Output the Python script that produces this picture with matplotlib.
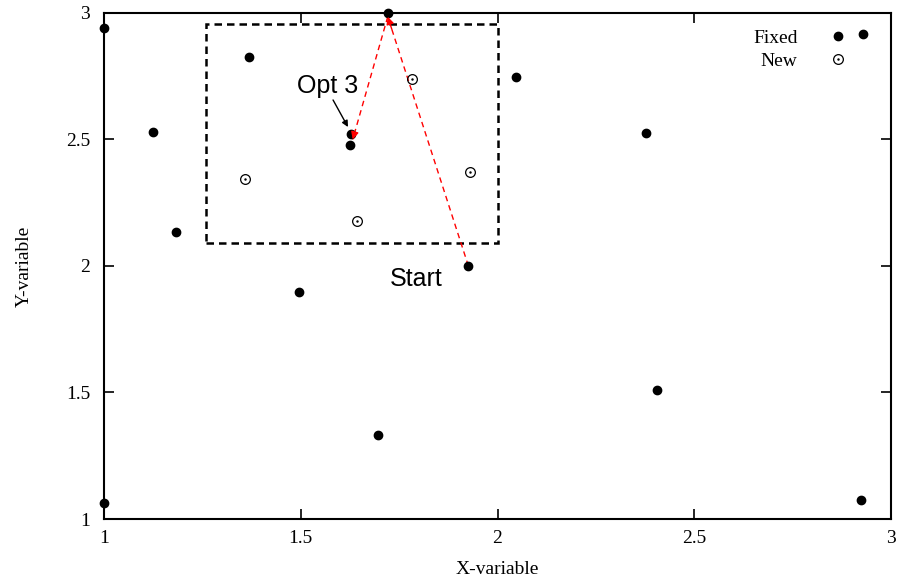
import matplotlib
matplotlib.use('Agg')
import matplotlib.pyplot as plt
from matplotlib.patches import Rectangle

plt.rcParams['font.family'] = 'Liberation Serif'

# fixed design points
fixed_x = [1.0, 1.124, 1.183, 1.368, 1.495, 1.627, 1.624, 1.721, 1.695,
           1.926, 2.048, 2.377, 2.405, 2.924, 1.0, 2.93]
fixed_y = [2.94, 2.53, 2.133, 2.826, 1.897, 2.523, 2.48, 3.0, 1.333,
           2.0, 2.747, 2.526, 1.51, 1.075, 1.063, 2.917]

# new points
new_x = [1.358, 1.782, 1.642, 1.931]
new_y = [2.343, 2.74, 2.176, 2.37]

# optimisation path: start -> opt 2 -> opt 3
path_x = [1.926, 1.721, 1.632]
path_y = [2.0, 2.985, 2.50]

# trust region box
box_x = [1.26, 2.0]
box_y = [2.09, 2.955]

fig = plt.figure(figsize=(9, 5.87), dpi=100)
ax = fig.add_axes([0.1156, 0.1158, 0.8744, 0.8622])

h_fixed, = ax.plot(fixed_x, fixed_y, 'o', color='black', markersize=6, clip_on=False,
                   zorder=4)
h_new, = ax.plot(new_x, new_y, 'o', markerfacecolor='none', markeredgecolor='black',
                 markeredgewidth=0.9, markersize=7, clip_on=False, zorder=4)
h_dot, = ax.plot(new_x, new_y, '.', color='black', markersize=1.5, zorder=4)

ax.add_patch(Rectangle((box_x[0], box_y[0]), box_x[1] - box_x[0], box_y[1] - box_y[0],
                       fill=False, edgecolor='black', linestyle=(0, (3, 2)), lw=1.8))

for i in range(len(path_x) - 1):
    dx = path_x[i + 1] - path_x[i]
    dy = path_y[i + 1] - path_y[i]
    ax.plot(path_x[i:i + 2], path_y[i:i + 2], color='red', lw=1, dashes=(4, 3), zorder=3)
    ax.annotate('', xy=(path_x[i + 1], path_y[i + 1]),
                xytext=(path_x[i] + 0.95 * dx, path_y[i] + 0.95 * dy),
                arrowprops=dict(arrowstyle='-|>', color='red', lw=1, mutation_scale=11,
                                shrinkA=0, shrinkB=0), zorder=5)

ax.annotate('', xy=(1.620, 2.549), xytext=(1.582, 2.656),
            arrowprops=dict(arrowstyle='-|>', color='black', lw=1, mutation_scale=9,
                            shrinkA=0, shrinkB=0))
ax.text(1.567, 2.711, 'Opt 3', family='Liberation Sans', fontsize=18,
        ha='center', va='center')
ax.text(1.793, 1.949, 'Start', family='Liberation Sans', fontsize=18,
        ha='center', va='center')

ax.set_xlim(1, 3)
ax.set_ylim(1, 3)
ax.set_xticks([1, 1.5, 2, 2.5, 3])
ax.set_xticklabels(['1', '1.5', '2', '2.5', '3'])
ax.set_yticks([1, 1.5, 2, 2.5, 3])
ax.set_yticklabels(['1', '1.5', '2', '2.5', '3'])
ax.tick_params(direction='in', top=True, right=True, length=7, width=1.2,
               labelsize=14)
ax.tick_params(axis='x', pad=8)
ax.tick_params(axis='y', pad=10)
for s in ax.spines.values():
    s.set_linewidth(1.5)

ax.set_xlabel('X-variable', fontsize=14, labelpad=10)
ax.set_ylabel('Y-variable', fontsize=14, labelpad=24)

ax.legend([h_fixed, (h_new, h_dot)], ['Fixed', 'New'], loc='upper right',
          frameon=False, markerfirst=False, fontsize=14,
          handlelength=1.2, handletextpad=1.45, labelspacing=0.25,
          borderaxespad=0.45, bbox_to_anchor=(0.968, 1.0))

fig.savefig('out.png', dpi=100)
